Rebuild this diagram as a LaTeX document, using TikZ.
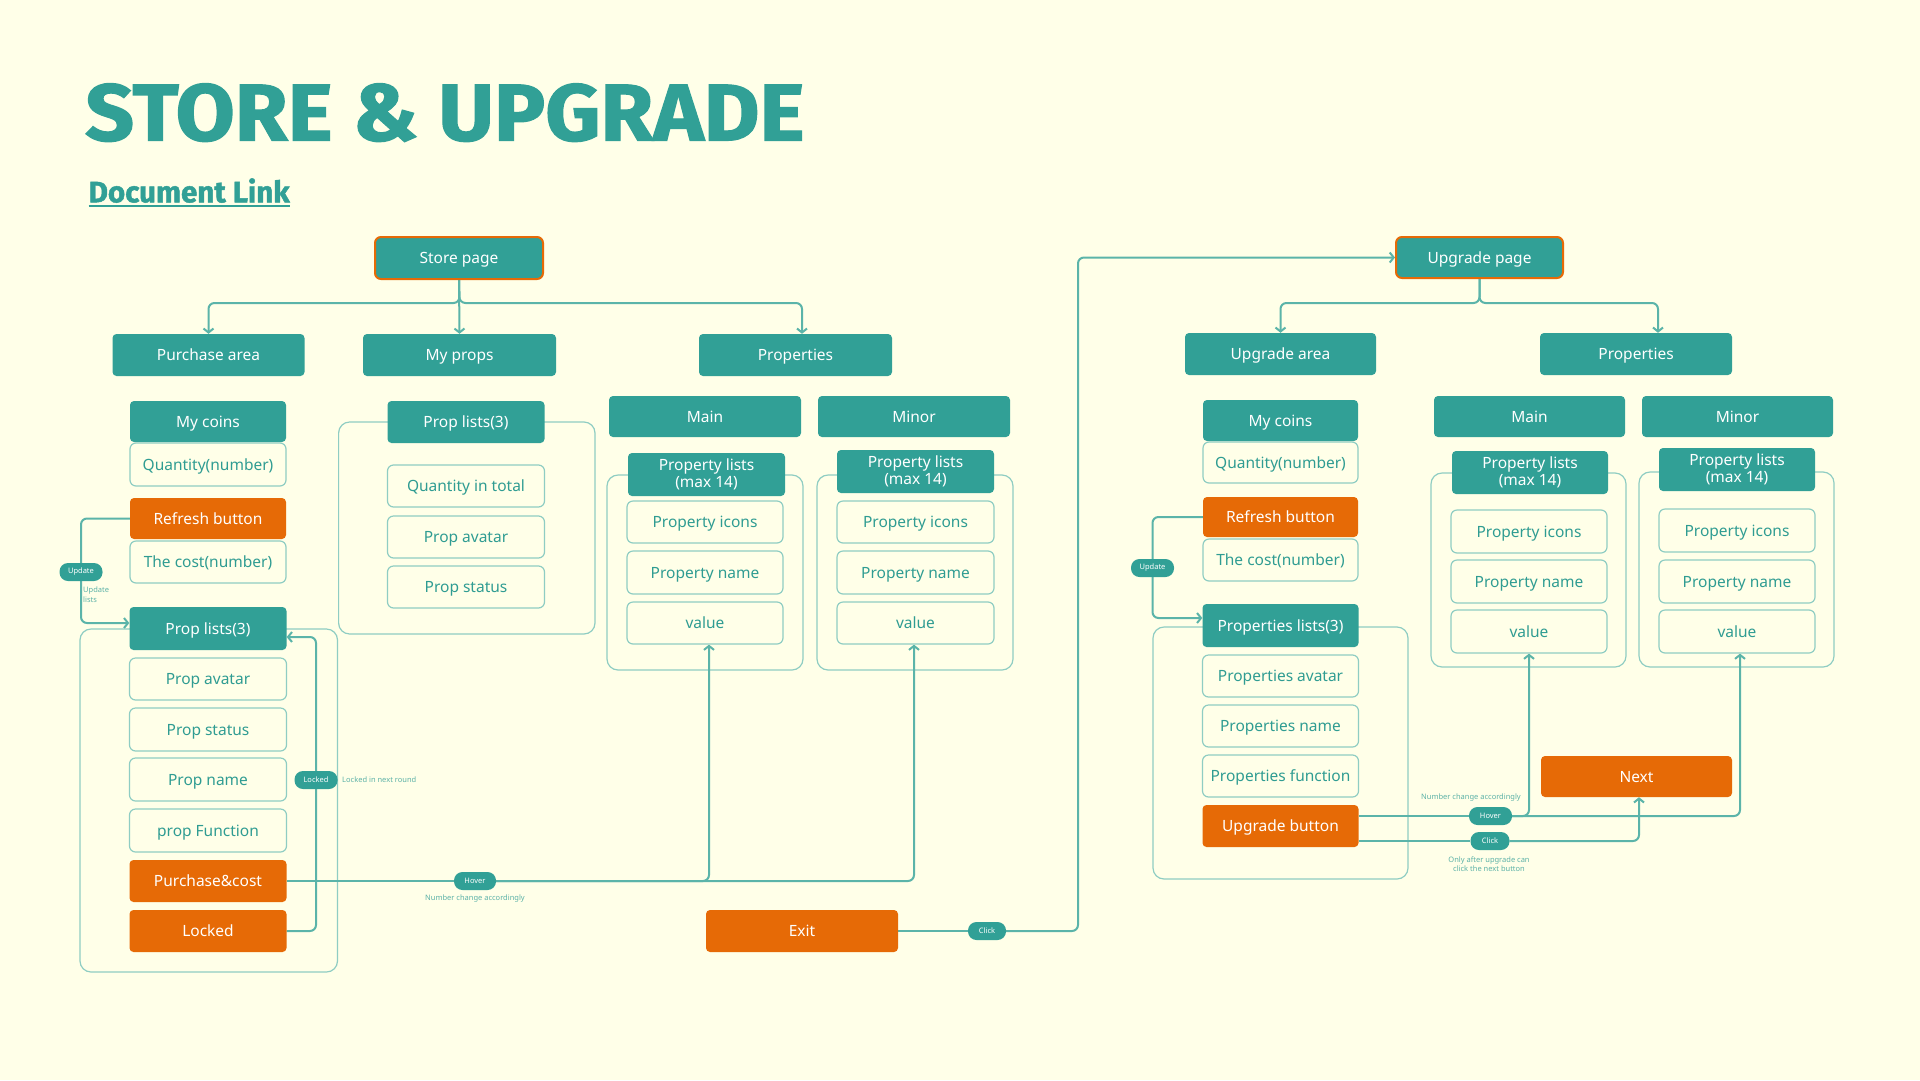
\documentclass[tikz,border=0pt]{standalone}
\usepackage{graphicx}
\usepackage{fontspec}
\setmainfont{Noto Sans}
\newfontfamily\titlefont{Fira Sans}[BoldFeatures={FakeBold=1.5}]
\usetikzlibrary{arrows.meta,calc}
\definecolor{bg}{HTML}{FFFFE8}
\definecolor{teal}{HTML}{31A096}
\definecolor{tealtxt}{HTML}{2F9C92}
\definecolor{lteal}{HTML}{8FCDC3}
\definecolor{lineteal}{HTML}{5BB4A9}
\definecolor{noteteal}{HTML}{5DB2A8}
\definecolor{orng}{HTML}{E66A06}
\pgfdeclarelayer{back}
\pgfdeclarelayer{mid}
\pgfsetlayers{back,mid,main}
\newcommand\bx[6]{\node[#1, minimum width=#4pt, minimum height=#5pt] (#2) at (#3) {#6};}
\begin{document}
\begin{tikzpicture}[x=1pt,y=-1pt,
  base/.style={rounded corners=4pt, inner sep=0pt, align=center, font=\fontsize{15.5}{17.5}\selectfont},
  onel/.style={text height=13pt, text depth=2pt},
  tbox2/.style={base, fill=teal, text=white},
  tbox/.style={tbox2, onel},
  obox/.style={base, onel, fill=bg, draw=lteal, line width=1.2pt, text=tealtxt, rounded corners=6pt},
  orbox/.style={base, onel, fill=orng, text=white},
  pagebox/.style={tbox, draw=orng, line width=2pt, rounded corners=6pt},
  pill/.style={fill=teal, text=white, rounded corners=8.5pt, inner sep=0pt, font=\fontsize{7.5}{8}\selectfont, minimum height=18pt},
  note/.style={text=noteteal, font=\fontsize{7.5}{9.5}\selectfont, inner sep=0pt, align=center},
  cont/.style={draw=lteal, line width=1.2pt, rounded corners=11pt},
  conn/.style={draw=lineteal, line width=2pt, rounded corners=6pt},
  arr/.style={-{Straight Barb[length=4pt,width=10pt]}}]
\begin{pgfonlayer}{back}
\fill[bg] (0,0) rectangle (1920,1080);
\end{pgfonlayer}
\useasboundingbox (0,0) rectangle (1920,1080);

% title
\node[anchor=south west, inner sep=0pt, text=teal] (title) at (85,142) {\resizebox{719pt}{57pt}{\titlefont\bfseries STORE \& UPGRADE}};
\node[anchor=south west, inner sep=0pt, text=teal] (doclink) at (88.5,203) {\resizebox{201pt}{!}{\titlefont\bfseries Document Link}};
\draw[teal, line width=2pt] ([yshift=-3pt]doclink.south west) -- ([yshift=-3pt]doclink.south east);

% ---------- Store side ----------
\bx{pagebox}{store}{459,258}{168}{42}{Store page}
\bx{tbox}{purch}{208.5,355}{192}{42}{Purchase area}
\bx{tbox}{myprops}{459.5,355}{193}{42}{My props}
\bx{tbox}{props1}{795.5,355}{193}{42}{Properties}

\bx{tbox}{coins1}{208,421.5}{156}{41}{My coins}
\bx{obox}{qty1}{208,464.5}{156}{43}{Quantity(number)}
\bx{orbox}{refresh1}{208,518.5}{156}{41}{Refresh button}
\bx{obox}{cost1}{208,562}{156}{42}{The cost(number)}

\bx{tbox}{plists1}{208,628.5}{157}{43}{Prop lists(3)}
\bx{obox}{pavatar1}{208,679}{157}{42}{Prop avatar}
\bx{obox}{pstatus1}{208,729.5}{157}{43}{Prop status}
\bx{obox}{pname1}{208,779.5}{157}{43}{Prop name}
\bx{obox}{pfunc1}{208,830.5}{157}{43}{prop Function}
\bx{orbox}{pcost}{208,881}{157}{42}{Purchase\&cost}
\bx{orbox}{locked}{208,931}{157}{42}{Locked}

\bx{tbox}{plists2}{466,422}{157}{42}{Prop lists(3)}
\bx{obox}{qtotal}{466,486}{157}{42}{Quantity in total}
\bx{obox}{pavatar2}{466,537}{157}{42}{Prop avatar}
\bx{obox}{pstatus2}{466,587}{157}{42}{Prop status}

\bx{tbox}{main1}{705,416.5}{192}{41}{Main}
\bx{tbox}{minor1}{914,416.5}{192}{41}{Minor}
\bx{tbox2}{plm1}{706.5,474.5}{157}{43}{Property lists\\(max 14)}
\bx{obox}{icm1}{705,522}{156}{42}{Property icons}
\bx{obox}{nam1}{705,572.5}{156}{43}{Property name}
\bx{obox}{valm1}{705,623}{156}{42}{value}
\bx{tbox2}{pln1}{915.5,471.5}{157}{43}{Property lists\\(max 14)}
\bx{obox}{icn1}{915.5,522}{157}{42}{Property icons}
\bx{obox}{nan1}{915.5,572.5}{157}{43}{Property name}
\bx{obox}{valn1}{915.5,623}{157}{42}{value}

\bx{orbox}{exit}{802,931}{192}{42}{Exit}

% ---------- Upgrade side ----------
\bx{pagebox}{upage}{1479.5,257.5}{167}{41}{Upgrade page}
\bx{tbox}{uarea}{1280.5,354}{191}{42}{Upgrade area}
\bx{tbox}{props2}{1636,354}{192}{42}{Properties}

\bx{tbox}{coins2}{1280.5,420.5}{155}{41}{My coins}
\bx{obox}{qty2}{1280.5,462.5}{155}{41}{Quantity(number)}
\bx{orbox}{refresh2}{1280.5,517}{155}{40}{Refresh button}
\bx{obox}{cost2}{1280.5,560}{155}{42}{The cost(number)}

\bx{tbox}{plists3}{1280.5,625.5}{156}{43}{Properties lists(3)}
\bx{obox}{pavatar3}{1280.5,676}{156}{42}{Properties avatar}
\bx{obox}{pname3}{1280.5,726}{156}{42}{Properties name}
\bx{obox}{pfunc3}{1280.5,776}{156}{42}{Properties function}
\bx{orbox}{upbtn}{1280.5,826}{156}{42}{Upgrade button}

\bx{tbox}{main2}{1529.5,416.5}{191}{41}{Main}
\bx{tbox}{minor2}{1737.5,416.5}{191}{41}{Minor}
\bx{tbox2}{plm2}{1530,472.5}{156}{43}{Property lists\\(max 14)}
\bx{obox}{icm2}{1529,531.5}{156}{43}{Property icons}
\bx{obox}{nam2}{1529,581.5}{156}{43}{Property name}
\bx{obox}{valm2}{1529,631.5}{156}{43}{value}
\bx{tbox2}{pln2}{1737,469.5}{156}{43}{Property lists\\(max 14)}
\bx{obox}{icn2}{1737,530.5}{156}{43}{Property icons}
\bx{obox}{nan2}{1737,581.5}{156}{43}{Property name}
\bx{obox}{valn2}{1737,631.5}{156}{43}{value}

\bx{orbox}{next}{1636.5,776.5}{191}{41}{Next}

% ---------- pills and notes ----------
\node[pill, minimum width=43pt] (upd1) at (81,572) {Update};
\node[note, anchor=north west, align=left] (updl1) at (83,587) {Update\\lists};
\node[pill, minimum width=43pt] (lk) at (316,780) {Locked};
\node[note, anchor=west] (lkl) at (342,780) {Locked in next round};
\node[pill, minimum width=42pt] (hov1) at (475,881) {Hover};
\node[note] (hovl1) at (475,899) {Number change accordingly};
\node[pill, minimum width=38pt] (clk1) at (987,931) {Click};
\node[pill, minimum width=43pt] (upd2) at (1152.5,568) {Update};
\node[pill, minimum width=43pt] (hov2) at (1490.5,816) {Hover};
\node[note] (hovl2) at (1471,798) {Number change accordingly};
\node[pill, minimum width=39pt] (clk2) at (1490,841) {Click};
\node[note] (clkl2) at (1489,864) {Only after upgrade can\\click the next button};

\coordinate (sj) at (459.5,303);
\coordinate (uj) at (1479.5,303);
\coordinate (eturn) at (1078,931);

\begin{pgfonlayer}{mid}
% containers
\draw[cont] (80,629) rectangle (337.5,972);
\draw[cont] (338.6,422) rectangle (595,634);
\draw[cont] (607,475) rectangle (803,670);
\draw[cont] (817,475) rectangle (1013,670);
\draw[cont] (1153,627) rectangle (1408,879);
\draw[cont] (1431,473) rectangle (1626,667);
\draw[cont] (1639,472) rectangle (1834,667);

% store branches
\draw[conn,arr] (store.south) -- (sj) -| (purch.north);
\draw[conn,arr] (store.south) -- (myprops.north);
\draw[conn,arr] (store.south) -- (sj) -| ([xshift=6.5pt]props1.north);
% upgrade branches
\draw[conn,arr] (upage.south) -- (uj) -| (uarea.north);
\draw[conn,arr] (upage.south) -- (uj) -| ([xshift=22pt]props2.north);

% update loops
\draw[conn] (refresh1.west) -| (upd1.north);
\draw[conn,arr] (upd1.south) |- ([yshift=5.5pt]plists1.west);
\draw[conn] (refresh2.west) -| (upd2.north);
\draw[conn,arr] (upd2.south) |- ([yshift=7.5pt]plists3.west);

% locked loop
\draw[conn] (locked.east) -| (lk.south);
\draw[conn,arr] (lk.north) |- ([yshift=-8.5pt]plists1.east);

% hover (store)
\draw[conn] (pcost.east) -- (hov1.west);
\draw[conn,arr] (hov1.east) -| ([xshift=4pt]valm1.south);
\draw[conn,arr] (hov1.east) -| ([xshift=-1.5pt]valn1.south);

% exit
\draw[conn] (exit.east) -- (clk1.west);
\draw[conn,arr] (clk1.east) -- (eturn) |- (upage.west);

% upgrade hover / click
\draw[conn] ([yshift=10pt]upbtn.east) -- (hov2.west);
\draw[conn,arr] (hov2.east) -| (valm2.south);
\draw[conn,arr] (hov2.east) -| ([xshift=3pt]valn2.south);
\draw[conn] ([yshift=-15pt]upbtn.east) -- (clk2.west);
\draw[conn,arr] (clk2.east) -| ([xshift=2.5pt]next.south);
\end{pgfonlayer}
\end{tikzpicture}
\end{document}
